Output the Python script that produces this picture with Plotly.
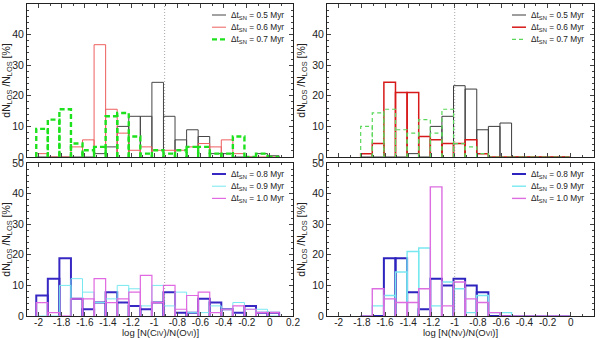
import numpy as np
import plotly.graph_objects as go
from plotly.subplots import make_subplots

# bins (log column-density ratio), width 0.1
left_start = -2.02
right_start = -1.81
bin_width = 0.1

# top-left: log[N(CIV)/N(OVI)], dt_SN = 0.5 / 0.6 / 0.7 Myr  (21 bins)
civ_05 = [0, 0, 0, 0, 0, 1.1, 3.3, 10.0, 13.3, 13.3, 24.4, 13.3, 5.6, 8.9, 6.7, 1.1, 1.1, 0, 0, 1.1, 0.4]
civ_06 = [1.1, 0, 0, 3.3, 5.6, 36.7, 15.6, 7.8, 2.2, 3.3, 2.2, 2.2, 2.2, 3.3, 4.4, 3.3, 5.6, 1.1, 0, 0, 0]
civ_07 = [9.2, 12.2, 15.6, 4.4, 2.2, 3.3, 13.3, 14.4, 6.7, 1.1, 2.2, 1.1, 2.2, 3.3, 3.3, 1.1, 1.1, 6.7, 0, 1.1, 0]

# top-right: log[N(NV)/N(OVI)], dt_SN = 0.5 / 0.6 / 0.7 Myr  (18 bins)
nv_05 = [0, 0, 0, 0, 1.1, 0, 10.0, 13.3, 23.3, 22.2, 8.9, 10.0, 11.1, 0, 0, 0, 0, 0]
nv_06 = [1.1, 4.4, 24.4, 21.1, 21.1, 6.7, 5.6, 4.4, 4.4, 5.6, 1.1, 0, 0, 0, 0, 0, 0, 0]
nv_07 = [10.0, 14.4, 15.6, 8.9, 7.8, 12.2, 7.8, 15.6, 4.4, 3.3, 1.1, 0, 0, 0, 0, 0, 0, 0]

# bottom-left: log[N(CIV)/N(OVI)], dt_SN = 0.8 / 0.9 / 1.0 Myr
civ_08 = [6.7, 12.2, 18.9, 5.6, 2.2, 4.4, 7.8, 4.4, 3.3, 2.2, 4.4, 7.8, 1.1, 1.1, 5.6, 4.4, 2.2, 1.1, 3.3, 1.1, 1.1]
civ_09 = [0, 0, 10.0, 12.2, 7.8, 4.4, 5.6, 10.0, 8.9, 3.3, 10.0, 3.3, 7.8, 1.1, 1.1, 3.3, 2.2, 4.4, 2.2, 2.2, 0]
civ_10 = [4.4, 1.1, 0, 5.6, 5.6, 12.2, 4.4, 5.6, 7.8, 13.3, 4.4, 10.0, 2.2, 6.7, 7.8, 1.1, 2.2, 3.3, 2.2, 1.1, 1.1]

# bottom-right: log[N(NV)/N(OVI)], dt_SN = 0.8 / 0.9 / 1.0 Myr
nv_08 = [0, 0, 18.9, 18.9, 7.8, 2.2, 12.2, 10.0, 12.2, 10.0, 7.8, 0, 0, 0, 0, 0, 0, 0]
nv_09 = [0, 3.3, 6.7, 14.4, 21.1, 22.2, 3.3, 11.1, 8.9, 1.1, 6.7, 1.1, 1.1, 0, 0, 0, 0, 0]
nv_10 = [0, 8.9, 5.6, 4.4, 4.4, 8.9, 42.2, 3.3, 11.1, 5.6, 4.4, 1.1, 0, 0, 0, 0, 0, 0]

labels_top = ['0.5 Myr', '0.6 Myr', '0.7 Myr']
labels_bot = ['0.8 Myr', '0.9 Myr', '1.0 Myr']

xtick_vals = [-2, -1.8, -1.6, -1.4, -1.2, -1, -0.8, -0.6, -0.4, -0.2, 0, 0.2]
xtick_text = ['-2', '-1.8', '-1.6', '-1.4', '-1.2', '-1', '-0.8', '-0.6', '-0.4', '-0.2', '0', '0.2']

ref_line_left = -0.91
ref_line_right = -1.0

FONT = 'Liberation Sans, Arial, sans-serif'
W, H = 600, 338


def outline(start, vals):
    """one open rectangle per bin, separated by gaps"""
    edges = start + bin_width * np.arange(len(vals) + 1)
    xs, ys = [], []
    for i, v in enumerate(vals):
        xs += [edges[i], edges[i], edges[i + 1], edges[i + 1], None]
        ys += [0, v, v, 0, None]
    return xs, ys


fig = make_subplots(rows=2, cols=2)

panels = [
    # row, col, start, series, styles, labels
    (1, 1, left_start, [civ_05, civ_06, civ_07],
     [dict(color='rgb(70,70,70)', width=1),
      dict(color='rgb(238,95,95)', width=1),
      dict(color='rgb(30,225,30)', width=2.4, dash='5px,3px')], labels_top),
    (1, 2, right_start, [nv_05, nv_06, nv_07],
     [dict(color='rgb(60,60,60)', width=1),
      dict(color='rgb(215,25,25)', width=1.5),
      dict(color='rgb(90,215,90)', width=1.2, dash='4px,3px')], labels_top),
    (2, 1, left_start, [civ_08, civ_09, civ_10],
     [dict(color='rgb(55,40,195)', width=2),
      dict(color='rgb(120,232,240)', width=1),
      dict(color='rgb(225,105,225)', width=1.2)], labels_bot),
    (2, 2, right_start, [nv_08, nv_09, nv_10],
     [dict(color='rgb(45,35,190)', width=2),
      dict(color='rgb(120,232,240)', width=1.4),
      dict(color='rgb(220,110,225)', width=1.4)], labels_bot),
]

# panel frames in pixels (left, right, top, bottom)
frames = {
    (1, 1): (27, 293, 4, 157),
    (1, 2): (327, 594, 4, 157),
    (2, 1): (27, 293, 163, 316),
    (2, 2): (327, 594, 163, 316),
}

x_titles = {
    1: "log [N(C<span style='font-size:7px'>IV</span>)/N(O<span style='font-size:7px'>VI</span>)]",
    2: "log [N(N<span style='font-size:7px'>V</span>)/N(O<span style='font-size:7px'>VI</span>)]",
}

for row, col, start, series, styles, labels in panels:
    for k in range(3):
        xs, ys = outline(start, series[k])
        fig.add_trace(go.Scatter(x=xs, y=ys, mode='lines', line=styles[k],
                                 showlegend=False, hoverinfo='skip'),
                      row=row, col=col)

    l, r, t, b = frames[(row, col)]
    # hand-made legend in the upper right corner
    for k in range(3):
        yy = 1 - (t + 11 + 12.2 * k) / H
        fig.add_shape(type='line', xref='paper', yref='paper',
                      x0=(l + 185) / W, x1=(l + 199) / W, y0=yy, y1=yy,
                      line=styles[k])
        fig.add_annotation(x=(l + 202) / W, y=yy, xref='paper', yref='paper',
                           text=f'Δt<sub>SN</sub> = {labels[k]}', showarrow=False,
                           xanchor='left', yanchor='middle',
                           font=dict(family=FONT, size=8.3, color='#222'))

    if row == 2:
        fig.add_annotation(x=(l + r) / 2 / W, y=1 - 332 / H, xref='paper', yref='paper',
                           text=x_titles[col], showarrow=False,
                           xanchor='center', yanchor='middle',
                           font=dict(family=FONT, size=9.5, color='#222'))

    xref = ref_line_left if col == 1 else ref_line_right
    fig.add_vline(x=xref, line=dict(color='rgb(130,130,130)', width=0.7, dash='1px,2px'),
                  row=row, col=col)

    fig.update_xaxes(domain=[l / W, r / W], range=[-2.1, 0.2],
                     tickvals=xtick_vals, ticktext=xtick_text,
                     showticklabels=(row == 2), ticks='inside', ticklen=4,
                     ticklabelstandoff=-3,
                     minor=dict(dtick=0.1, tick0=0, ticks='inside', ticklen=2),
                     showline=True, mirror='allticks', linecolor='#222', linewidth=1,
                     showgrid=False, zeroline=False, automargin=False,
                     tickfont=dict(family=FONT, size=10, color='#222'),
                     row=row, col=col)
    fig.update_yaxes(domain=[1 - b / H, 1 - t / H], range=[0, 50],
                     tickvals=[0, 10, 20, 30, 40, 50],
                     ticks='inside', ticklen=4,
                     minor=dict(dtick=2, ticks='inside', ticklen=2),
                     showline=True, mirror='allticks', linecolor='#222', linewidth=1,
                     showgrid=False, zeroline=False, automargin=False,
                     tickfont=dict(family=FONT, size=10.5, color='#222'),
                     title=dict(text='dN<sub>LOS</sub> /N<sub>LOS</sub> [%]', standoff=4,
                                font=dict(family=FONT, size=10.5, color='#222')),
                     row=row, col=col)

fig.update_layout(
    width=W, height=H,
    margin=dict(l=0, r=0, t=0, b=0),
    paper_bgcolor='white', plot_bgcolor='white',
    showlegend=False,
    font=dict(family=FONT, color='#222'),
)

# page body has a default 8px margin; drop it so the figure sits at the corner
fig.write_html("out.html", config={'displayModeBar': False},
               post_script="document.body.style.margin='0';")
